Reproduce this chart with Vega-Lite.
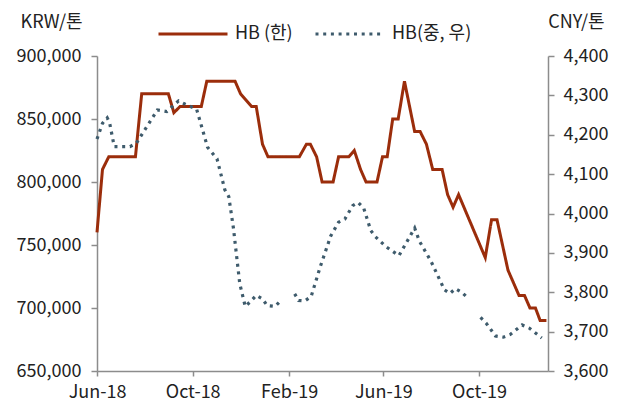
{
  "$schema": "https://vega.github.io/schema/vega-lite/v6.json",
  "width": 451,
  "height": 315,
  "autosize": {"type": "none"},
  "padding": {"left": 97, "top": 56, "right": 74, "bottom": 34},
  "background": "white",
  "config": {
    "font": "Noto Sans CJK KR",
    "view": {"stroke": null},
    "axis": {"labelFont": "Noto Sans CJK KR", "titleFont": "Noto Sans CJK KR", "labelFontSize": 18, "titleFontSize": 18, "labelColor": "#222222", "titleColor": "#222222", "titleFontWeight": "normal", "grid": false, "domainColor": "#8c8c8c", "tickColor": "#8c8c8c", "domainWidth": 1.5, "tickWidth": 1.5, "tickSize": 6},
    "legend": {
      "orient": "none", "legendX": 60, "legendY": -58, "direction": "horizontal",
      "symbolType": "stroke", "symbolSize": 4761, "symbolStrokeWidth": 3, "labelFontSize": 18,
      "labelFont": "Noto Sans CJK KR", "labelColor": "#222222", "labelOffset": 6, "columnPadding": 16
    }
  },
  "datasets": {
    "krw": [
      {"date": "2018-06-01", "v": 760000, "series": "HB (한)"},
      {"date": "2018-06-08", "v": 810000, "series": "HB (한)"},
      {"date": "2018-06-16", "v": 820000, "series": "HB (한)"},
      {"date": "2018-07-20", "v": 820000, "series": "HB (한)"},
      {"date": "2018-07-28", "v": 870000, "series": "HB (한)"},
      {"date": "2018-08-31", "v": 870000, "series": "HB (한)"},
      {"date": "2018-09-07", "v": 855000, "series": "HB (한)"},
      {"date": "2018-09-15", "v": 860000, "series": "HB (한)"},
      {"date": "2018-10-12", "v": 860000, "series": "HB (한)"},
      {"date": "2018-10-19", "v": 880000, "series": "HB (한)"},
      {"date": "2018-11-24", "v": 880000, "series": "HB (한)"},
      {"date": "2018-12-01", "v": 870000, "series": "HB (한)"},
      {"date": "2018-12-15", "v": 860000, "series": "HB (한)"},
      {"date": "2018-12-21", "v": 860000, "series": "HB (한)"},
      {"date": "2018-12-29", "v": 830000, "series": "HB (한)"},
      {"date": "2019-01-05", "v": 820000, "series": "HB (한)"},
      {"date": "2019-02-14", "v": 820000, "series": "HB (한)"},
      {"date": "2019-02-23", "v": 830000, "series": "HB (한)"},
      {"date": "2019-02-28", "v": 830000, "series": "HB (한)"},
      {"date": "2019-03-08", "v": 820000, "series": "HB (한)"},
      {"date": "2019-03-15", "v": 800000, "series": "HB (한)"},
      {"date": "2019-03-29", "v": 800000, "series": "HB (한)"},
      {"date": "2019-04-05", "v": 820000, "series": "HB (한)"},
      {"date": "2019-04-18", "v": 820000, "series": "HB (한)"},
      {"date": "2019-04-25", "v": 825000, "series": "HB (한)"},
      {"date": "2019-05-03", "v": 810000, "series": "HB (한)"},
      {"date": "2019-05-10", "v": 800000, "series": "HB (한)"},
      {"date": "2019-05-24", "v": 800000, "series": "HB (한)"},
      {"date": "2019-05-31", "v": 820000, "series": "HB (한)"},
      {"date": "2019-06-06", "v": 820000, "series": "HB (한)"},
      {"date": "2019-06-13", "v": 850000, "series": "HB (한)"},
      {"date": "2019-06-20", "v": 850000, "series": "HB (한)"},
      {"date": "2019-06-28", "v": 880000, "series": "HB (한)"},
      {"date": "2019-07-11", "v": 840000, "series": "HB (한)"},
      {"date": "2019-07-18", "v": 840000, "series": "HB (한)"},
      {"date": "2019-07-26", "v": 830000, "series": "HB (한)"},
      {"date": "2019-08-03", "v": 810000, "series": "HB (한)"},
      {"date": "2019-08-15", "v": 810000, "series": "HB (한)"},
      {"date": "2019-08-22", "v": 790000, "series": "HB (한)"},
      {"date": "2019-08-29", "v": 780000, "series": "HB (한)"},
      {"date": "2019-09-05", "v": 790000, "series": "HB (한)"},
      {"date": "2019-10-09", "v": 740000, "series": "HB (한)"},
      {"date": "2019-10-17", "v": 770000, "series": "HB (한)"},
      {"date": "2019-10-24", "v": 770000, "series": "HB (한)"},
      {"date": "2019-11-07", "v": 730000, "series": "HB (한)"},
      {"date": "2019-11-21", "v": 710000, "series": "HB (한)"},
      {"date": "2019-11-28", "v": 710000, "series": "HB (한)"},
      {"date": "2019-12-05", "v": 700000, "series": "HB (한)"},
      {"date": "2019-12-12", "v": 700000, "series": "HB (한)"},
      {"date": "2019-12-18", "v": 690000, "series": "HB (한)"},
      {"date": "2019-12-26", "v": 690000, "series": "HB (한)"}
    ],
    "cny": [
      {"date": "2018-06-01", "v": 4189, "seg": 1, "series": "HB(중, 우)"},
      {"date": "2018-06-08", "v": 4229, "seg": 1, "series": "HB(중, 우)"},
      {"date": "2018-06-14", "v": 4243, "seg": 1, "series": "HB(중, 우)"},
      {"date": "2018-06-17", "v": 4231, "seg": 1, "series": "HB(중, 우)"},
      {"date": "2018-06-23", "v": 4170, "seg": 1, "series": "HB(중, 우)"},
      {"date": "2018-07-13", "v": 4170, "seg": 1, "series": "HB(중, 우)"},
      {"date": "2018-07-21", "v": 4178, "seg": 1, "series": "HB(중, 우)"},
      {"date": "2018-08-17", "v": 4263, "seg": 1, "series": "HB(중, 우)"},
      {"date": "2018-08-29", "v": 4259, "seg": 1, "series": "HB(중, 우)"},
      {"date": "2018-09-13", "v": 4286, "seg": 1, "series": "HB(중, 우)"},
      {"date": "2018-09-21", "v": 4278, "seg": 1, "series": "HB(중, 우)"},
      {"date": "2018-10-06", "v": 4265, "seg": 1, "series": "HB(중, 우)"},
      {"date": "2018-10-20", "v": 4168, "seg": 1, "series": "HB(중, 우)"},
      {"date": "2018-11-01", "v": 4139, "seg": 1, "series": "HB(중, 우)"},
      {"date": "2018-11-11", "v": 4060, "seg": 1, "series": "HB(중, 우)"},
      {"date": "2018-11-16", "v": 4043, "seg": 1, "series": "HB(중, 우)"},
      {"date": "2018-11-22", "v": 3962, "seg": 1, "series": "HB(중, 우)"},
      {"date": "2018-11-30", "v": 3822, "seg": 1, "series": "HB(중, 우)"},
      {"date": "2018-12-07", "v": 3764, "seg": 1, "series": "HB(중, 우)"},
      {"date": "2018-12-14", "v": 3777, "seg": 1, "series": "HB(중, 우)"},
      {"date": "2018-12-21", "v": 3792, "seg": 1, "series": "HB(중, 우)"},
      {"date": "2018-12-29", "v": 3783, "seg": 1, "series": "HB(중, 우)"},
      {"date": "2019-01-04", "v": 3766, "seg": 1, "series": "HB(중, 우)"},
      {"date": "2019-01-14", "v": 3764, "seg": 1, "series": "HB(중, 우)"},
      {"date": "2019-01-21", "v": 3778, "seg": 1, "series": "HB(중, 우)"},
      {"date": "2019-02-08", "v": 3796, "seg": 2, "series": "HB(중, 우)"},
      {"date": "2019-02-13", "v": 3779, "seg": 2, "series": "HB(중, 우)"},
      {"date": "2019-02-21", "v": 3778, "seg": 2, "series": "HB(중, 우)"},
      {"date": "2019-03-01", "v": 3789, "seg": 2, "series": "HB(중, 우)"},
      {"date": "2019-03-13", "v": 3867, "seg": 2, "series": "HB(중, 우)"},
      {"date": "2019-03-26", "v": 3943, "seg": 2, "series": "HB(중, 우)"},
      {"date": "2019-04-05", "v": 3978, "seg": 2, "series": "HB(중, 우)"},
      {"date": "2019-04-13", "v": 3986, "seg": 2, "series": "HB(중, 우)"},
      {"date": "2019-04-23", "v": 4020, "seg": 2, "series": "HB(중, 우)"},
      {"date": "2019-04-30", "v": 4028, "seg": 2, "series": "HB(중, 우)"},
      {"date": "2019-05-07", "v": 4014, "seg": 2, "series": "HB(중, 우)"},
      {"date": "2019-05-16", "v": 3957, "seg": 2, "series": "HB(중, 우)"},
      {"date": "2019-05-22", "v": 3941, "seg": 2, "series": "HB(중, 우)"},
      {"date": "2019-06-05", "v": 3915, "seg": 2, "series": "HB(중, 우)"},
      {"date": "2019-06-21", "v": 3893, "seg": 2, "series": "HB(중, 우)"},
      {"date": "2019-07-11", "v": 3963, "seg": 2, "series": "HB(중, 우)"},
      {"date": "2019-07-17", "v": 3930, "seg": 2, "series": "HB(중, 우)"},
      {"date": "2019-08-01", "v": 3878, "seg": 2, "series": "HB(중, 우)"},
      {"date": "2019-08-18", "v": 3806, "seg": 2, "series": "HB(중, 우)"},
      {"date": "2019-08-25", "v": 3797, "seg": 2, "series": "HB(중, 우)"},
      {"date": "2019-09-01", "v": 3809, "seg": 2, "series": "HB(중, 우)"},
      {"date": "2019-09-09", "v": 3800, "seg": 2, "series": "HB(중, 우)"},
      {"date": "2019-09-16", "v": 3787, "seg": 2, "series": "HB(중, 우)"},
      {"date": "2019-10-03", "v": 3736, "seg": 3, "series": "HB(중, 우)"},
      {"date": "2019-10-10", "v": 3722, "seg": 3, "series": "HB(중, 우)"},
      {"date": "2019-10-22", "v": 3689, "seg": 3, "series": "HB(중, 우)"},
      {"date": "2019-11-01", "v": 3686, "seg": 3, "series": "HB(중, 우)"},
      {"date": "2019-11-10", "v": 3693, "seg": 3, "series": "HB(중, 우)"},
      {"date": "2019-11-25", "v": 3717, "seg": 3, "series": "HB(중, 우)"},
      {"date": "2019-12-04", "v": 3709, "seg": 3, "series": "HB(중, 우)"},
      {"date": "2019-12-20", "v": 3684, "seg": 3, "series": "HB(중, 우)"}
    ]
  },
  "encoding": {
    "x": {
      "field": "date", "type": "temporal",
      "scale": {"type": "utc", "domain": [{"year": 2018, "month": 6, "date": 1, "utc": true}, {"year": 2019, "month": 12, "date": 28, "utc": true}]},
      "axis": {
        "title": null, "labelExpr": "utcFormat(datum.value, '%b-%y')", "labelPadding": 7, "tickSize": 5, "labelFlush": false,
        "values": [
          {"year": 2018, "month": 6, "date": 1, "utc": true},
          {"year": 2018, "month": 10, "date": 1, "utc": true},
          {"year": 2019, "month": 2, "date": 1, "utc": true},
          {"year": 2019, "month": 6, "date": 1, "utc": true},
          {"year": 2019, "month": 10, "date": 1, "utc": true}
        ]
      }
    },
    "color": {
      "field": "series", "type": "nominal",
      "scale": {"domain": ["HB (한)", "HB(중, 우)"], "range": ["#9b2d0b", "#3e5b6c"]},
      "legend": {"title": null}
    },
    "strokeDash": {
      "field": "series", "type": "nominal",
      "scale": {"domain": ["HB (한)", "HB(중, 우)"], "range": [[1, 0], [3, 4.7]]},
      "legend": {"title": null}
    }
  },
  "layer": [
    {
      "data": {"name": "krw"},
      "mark": {"type": "line", "strokeWidth": 3, "strokeJoin": "miter"},
      "encoding": {
        "y": {
          "field": "v", "type": "quantitative",
          "scale": {"domain": [650000, 900000], "nice": false, "zero": false},
          "axis": {
            "orient": "left", "format": ",.0f", "values": [650000, 700000, 750000, 800000, 850000, 900000],
            "labelPadding": 10, "title": "KRW/톤", "titleAngle": 0, "titleX": -46, "titleY": -34,
            "titleAlign": "center", "titleBaseline": "middle"
          }
        }
      }
    },
    {
      "data": {"name": "cny"},
      "mark": {"type": "line", "strokeWidth": 3.2},
      "encoding": {
        "detail": {"field": "seg", "type": "nominal"},
        "y": {
          "field": "v", "type": "quantitative",
          "scale": {"domain": [3600, 4400], "nice": false, "zero": false},
          "axis": {
            "orient": "right", "format": ",.0f", "values": [3600, 3700, 3800, 3900, 4000, 4100, 4200, 4300, 4400],
            "labelPadding": 9, "title": "CNY/톤", "titleAngle": 0, "titleX": 28, "titleY": -34,
            "titleAlign": "center", "titleBaseline": "middle"
          }
        }
      }
    }
  ],
  "resolve": {"scale": {"y": "independent"}}
}
